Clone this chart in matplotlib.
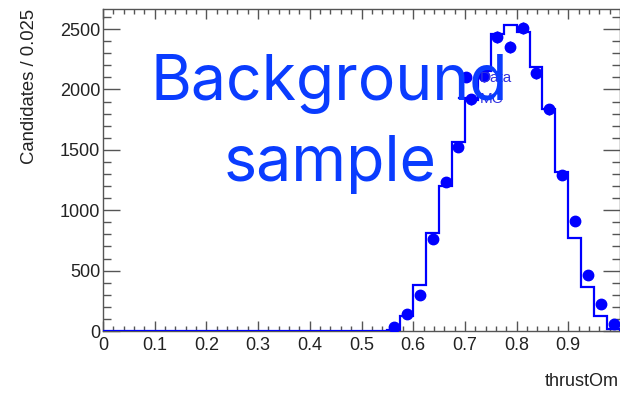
import numpy as np
import matplotlib
matplotlib.use("Agg")
import matplotlib.pyplot as plt
from matplotlib.lines import Line2D
from matplotlib.ticker import MultipleLocator

# ---- data ----
bin_width = 0.025
bin_edges = np.round(np.arange(0, 1.0 + bin_width / 2, bin_width), 4)
bin_centers = (bin_edges[:-1] + bin_edges[1:]) / 2

mc_counts = [0] * 22 + [8, 124, 380, 808, 1200, 1562, 1912, 2150, 2460, 2536,
                        2478, 2188, 1838, 1315, 773, 367, 127, 20]
data_counts = [0] * 22 + [36, 138, 298, 762, 1232, 1524, 1918, 2111, 2436, 2354,
                          2506, 2133, 1835, 1290, 910, 463, 224, 55]

x_ticks = [0, 0.1, 0.2, 0.3, 0.4, 0.5, 0.6, 0.7, 0.8, 0.9]
x_tick_labels = ["0", "0.1", "0.2", "0.3", "0.4", "0.5", "0.6", "0.7", "0.8", "0.9"]
y_ticks = [0, 500, 1000, 1500, 2000, 2500]
y_max = 2666

W, H = 620, 393
blue = "#0000ff"
text_blue = "#0a3cff"

fig = plt.figure(figsize=(W / 100, H / 100), dpi=100)
ax = fig.add_axes([103 / W, (H - 331) / H, (620 - 103) / W, (331 - 9) / H])

mc = np.array(mc_counts, dtype=float)
data = np.array(data_counts, dtype=float)

ax.stairs(mc, bin_edges, color=blue, lw=1.6, zorder=3)
mask = data > 0
ax.errorbar(bin_centers[mask], data[mask], yerr=np.sqrt(data[mask]),
            fmt="o", color=blue, ms=7.5, elinewidth=1, capsize=0, zorder=4)

ax.set_xlim(0, 1.0)
ax.set_ylim(0, y_max)
ax.set_xticks(x_ticks)
ax.set_xticklabels(x_tick_labels)
ax.set_yticks(y_ticks)
ax.set_yticklabels([str(v) for v in y_ticks])
ax.xaxis.set_minor_locator(MultipleLocator(0.02))
ax.yaxis.set_minor_locator(MultipleLocator(100))

tick_font = "Liberation Sans"
ax.tick_params(axis="both", which="both", direction="in", colors="#555555",
               labelcolor="#222222", labelsize=13, width=1)
ax.tick_params(axis="x", which="major", length=7, top=True, pad=4)
ax.tick_params(axis="x", which="minor", length=3.5, top=True)
ax.tick_params(axis="y", which="major", length=12, right=True, pad=2)
ax.tick_params(axis="y", which="minor", length=6, right=True)
for lab in ax.get_xticklabels() + ax.get_yticklabels():
    lab.set_fontfamily(tick_font)
for s in ax.spines.values():
    s.set_color("#555555")
    s.set_linewidth(1)

# axis titles (ROOT style)
fig.text(29.5 / W, (H - 9) / H, "Candidates / 0.025", rotation=90,
         ha="center", va="top", fontsize=13.3, family=tick_font, color="#222222")
fig.text(545 / W, (H - 381) / H, "thrustOm", ha="left", va="center",
         fontsize=13, family=tick_font, color="#222222")

# legend
handles = [Line2D([], [], color=blue, marker="o", ms=7.5, ls="none"),
           Line2D([], [], color=blue, lw=1.6)]
leg = ax.legend(handles, ["Data", "MC"], loc="upper left",
                bbox_to_anchor=((459 - 103) / 517, (331 - 71) / 322),
                frameon=False, borderpad=0, borderaxespad=0,
                handlelength=0.9, handletextpad=0.45, labelspacing=0.45,
                prop={"family": tick_font, "size": 11})
for t in leg.get_texts():
    t.set_color("#3030e0")

# big overlay text
ax.text((329 - 103) / 517, (331 - 99) / 322, "Background", transform=ax.transAxes,
        ha="center", va="baseline", fontsize=45, family="Inter", color=text_blue,
        zorder=10)
ax.text((330 - 103) / 517, (331 - 181) / 322, "sample", transform=ax.transAxes,
        ha="center", va="baseline", fontsize=45, family="Inter", color=text_blue,
        zorder=10)

fig.savefig("out.png", dpi=100)
